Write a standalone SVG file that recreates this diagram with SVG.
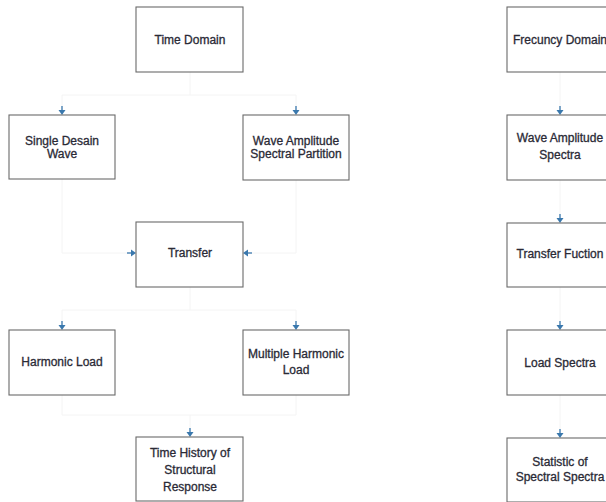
<svg xmlns="http://www.w3.org/2000/svg" width="606" height="502" viewBox="0 0 606 502">
<style>
.box{fill:#ffffff;stroke:#6a6a6a;stroke-width:1.1}
.lbl{font-family:"Liberation Sans",Arial,sans-serif;font-size:12px;fill:#2a2a36;text-anchor:middle;stroke:#2a2a36;stroke-width:0.3}
.con{fill:none;stroke:#f4f4f4;stroke-width:1}
</style>
<defs>
<marker id="arr" viewBox="-5 -4 11 8" markerWidth="11" markerHeight="8" refX="5" refY="0" orient="auto" markerUnits="userSpaceOnUse">
<path d="M-4,0 L1,0" stroke="#3a78ad" stroke-width="1.3"/>
<path d="M0,-3.5 L5,0 L0,3.5 Z" fill="#3a78ad"/>
</marker>
</defs>
<rect width="606" height="502" fill="#ffffff"/>
<g id="connectors">
<path class="con" d="M190,72 V95 H62 V115" marker-end="url(#arr)"/>
<path class="con" d="M190,95 H296 V115" marker-end="url(#arr)"/>
<path class="con" d="M62,179 V253 H136" marker-end="url(#arr)"/>
<path class="con" d="M296,180 V253 H243" marker-end="url(#arr)"/>
<path class="con" d="M190,287 V310 H62 V330" marker-end="url(#arr)"/>
<path class="con" d="M190,310 H296 V330" marker-end="url(#arr)"/>
<path class="con" d="M62,395 V415 H190 V437" marker-end="url(#arr)"/>
<path class="con" d="M296,395 V415 H190"/>
<path class="con" d="M560,72 V115" marker-end="url(#arr)"/>
<path class="con" d="M560,180 V223" marker-end="url(#arr)"/>
<path class="con" d="M560,287 V330" marker-end="url(#arr)"/>
<path class="con" d="M560,395 V438" marker-end="url(#arr)"/>
</g>
<g id="time-domain"><rect class="box" x="136" y="7" width="107" height="65"/><text class="lbl" x="190" y="44">Time Domain</text></g>
<g id="single-desain-wave"><rect class="box" x="9" y="115" width="106" height="64"/><text class="lbl" x="62" y="145">Single Desain</text><text class="lbl" x="62" y="158">Wave</text></g>
<g id="wave-amplitude-spectral-partition"><rect class="box" x="243" y="115" width="106" height="65"/><text class="lbl" x="296" y="145">Wave Amplitude</text><text class="lbl" x="296" y="158">Spectral Partition</text></g>
<g id="transfer"><rect class="box" x="136" y="222" width="107" height="65"/><text class="lbl" x="190" y="257">Transfer</text></g>
<g id="harmonic-load"><rect class="box" x="9" y="330" width="106" height="65"/><text class="lbl" x="62" y="366">Harmonic Load</text></g>
<g id="multiple-harmonic-load"><rect class="box" x="243" y="330" width="106" height="65"/><text class="lbl" x="296" y="358">Multiple Harmonic</text><text class="lbl" x="296" y="374">Load</text></g>
<g id="time-history"><rect class="box" x="136" y="437" width="107" height="64"/><text class="lbl" x="190" y="457">Time History of</text><text class="lbl" x="190" y="474">Structural</text><text class="lbl" x="190" y="491">Response</text></g>
<g id="frecuncy-domain"><rect class="box" x="507" y="7" width="106" height="65"/><text class="lbl" x="560" y="44">Frecuncy Domain</text></g>
<g id="wave-amplitude-spectra"><rect class="box" x="507" y="115" width="106" height="65"/><text class="lbl" x="560" y="142">Wave Amplitude</text><text class="lbl" x="560" y="159">Spectra</text></g>
<g id="transfer-fuction"><rect class="box" x="507" y="223" width="106" height="64"/><text class="lbl" x="560" y="258">Transfer Fuction</text></g>
<g id="load-spectra"><rect class="box" x="507" y="330" width="106" height="65"/><text class="lbl" x="560" y="367">Load Spectra</text></g>
<g id="statistic"><rect class="box" x="507" y="438" width="106" height="64"/><text class="lbl" x="560" y="466">Statistic of</text><text class="lbl" x="560" y="481">Spectral Spectra</text></g>
</svg>
